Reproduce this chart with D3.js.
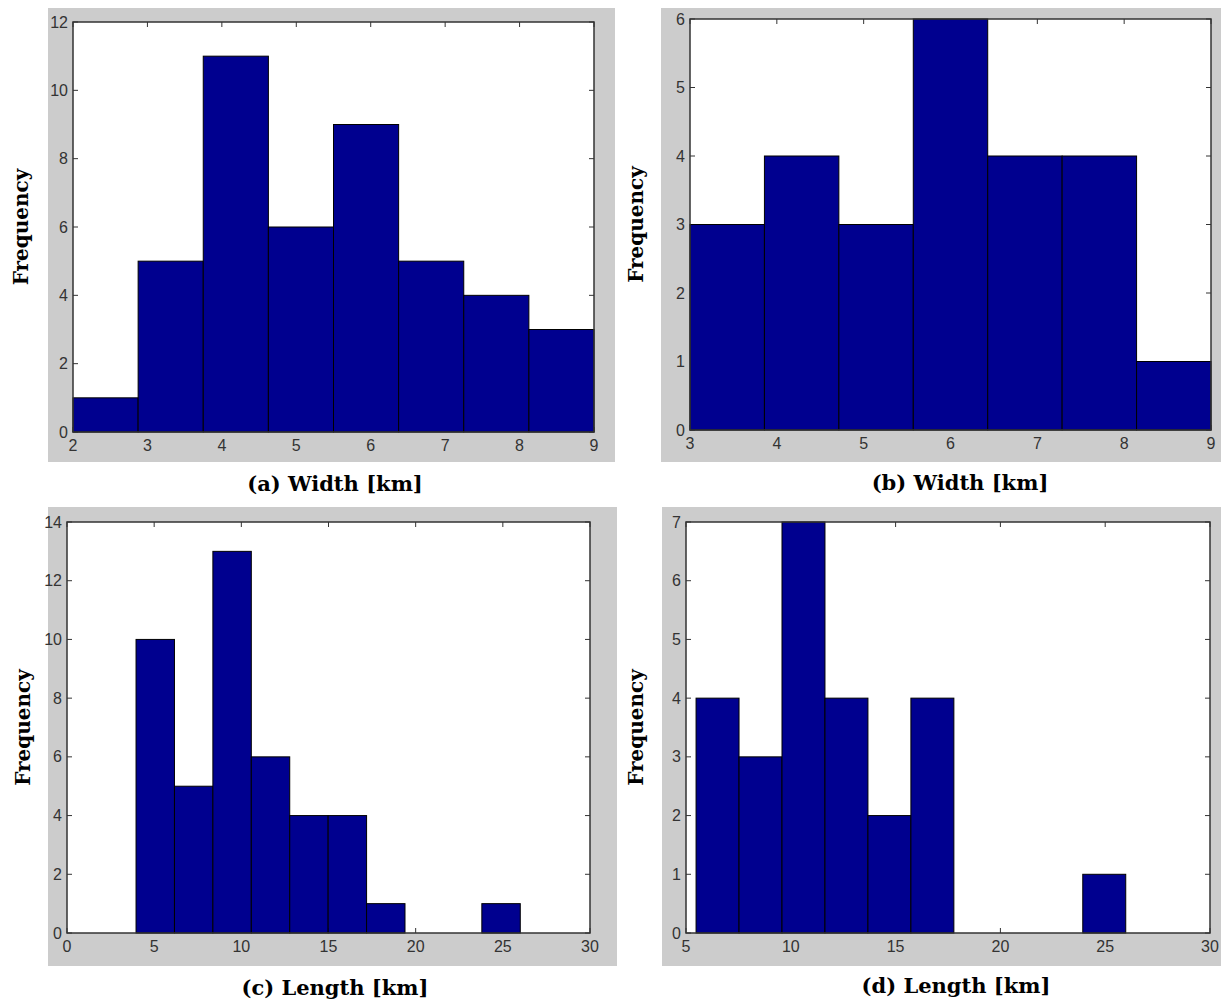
<!DOCTYPE html>
<html>
<head>
<meta charset="utf-8">
<script src="https://cdn.jsdelivr.net/npm/d3@7"></script>
<style>
  body { margin: 0; background: #fff; }
  .tick-label { font-family: "Liberation Sans", Arial, sans-serif; font-size: 16px; fill: #333; }
  .caption { font-family: "DejaVu Serif", serif; font-weight: bold; font-size: 20px; fill: #000; }
  .caption.bottom { font-size: 21px; }
</style>
</head>
<body>
<svg id="chart" width="1221" height="1003"></svg>
<script>
// histogram counts
var widthA = [1, 5, 11, 6, 9, 5, 4, 3];
var widthB = [3, 4, 3, 6, 4, 4, 1];
var lengthC = [10, 5, 13, 6, 4, 4, 1, 0, 0, 1];
var lengthD = [4, 3, 7, 4, 2, 4, 0, 0, 0, 1];

// data range covered by the bins (min, max)
var widthARange = [2, 9];
var widthBRange = [3, 9];
var lengthCRange = [3.96, 26];
var lengthDRange = [5.48, 25.98];

// axis ticks
var xTicksA = [2, 3, 4, 5, 6, 7, 8, 9];
var yTicksA = [0, 2, 4, 6, 8, 10, 12];
var xTicksB = [3, 4, 5, 6, 7, 8, 9];
var yTicksB = [0, 1, 2, 3, 4, 5, 6];
var xTicksC = [0, 5, 10, 15, 20, 25, 30];
var yTicksC = [0, 2, 4, 6, 8, 10, 12, 14];
var xTicksD = [5, 10, 15, 20, 25, 30];
var yTicksD = [0, 1, 2, 3, 4, 5, 6, 7];

var captions = ["(a) Width [km]", "(b) Width [km]", "(c) Length [km]", "(d) Length [km]"];

var svg = d3.select("#chart");

var panels = [
  { counts: widthA, range: widthARange, xTicks: xTicksA, yTicks: yTicksA, caption: captions[0],
    bg: [48, 8, 615, 462], plot: [73, 22, 594, 432], capX: 335, capY: 491, ylabX: 22 },
  { counts: widthB, range: widthBRange, xTicks: xTicksB, yTicks: yTicksB, caption: captions[1],
    bg: [661, 8, 1221, 462], plot: [690, 19, 1211, 430], capX: 960, capY: 490, ylabX: 637 },
  { counts: lengthC, range: lengthCRange, xTicks: xTicksC, yTicks: yTicksC, caption: captions[2],
    bg: [48, 507, 617, 966], plot: [67, 522, 590, 933], capX: 335, capY: 995, ylabX: 24 },
  { counts: lengthD, range: lengthDRange, xTicks: xTicksD, yTicks: yTicksD, caption: captions[3],
    bg: [662, 507, 1221, 966], plot: [686, 522, 1210, 933], capX: 956, capY: 993, ylabX: 637 }
];

panels.forEach(function(p) {
  var x0 = p.plot[0], y0 = p.plot[1], x1 = p.plot[2], y1 = p.plot[3];

  var x = d3.scaleLinear()
    .domain(d3.extent(p.xTicks))
    .range([x0, x1]);
  var y = d3.scaleLinear()
    .domain(d3.extent(p.yTicks))
    .range([y1, y0]);

  // bins of equal width between range min and max
  var n = p.counts.length;
  var step = (p.range[1] - p.range[0]) / n;
  var bins = p.counts.map(function(c, i) {
    return { x0: p.range[0] + i * step, x1: p.range[0] + (i + 1) * step, count: c };
  });

  var g = svg.append("g");

  g.append("rect")
    .attr("x", p.bg[0]).attr("y", p.bg[1])
    .attr("width", p.bg[2] - p.bg[0]).attr("height", p.bg[3] - p.bg[1])
    .attr("fill", "#cccccc");

  g.append("rect")
    .attr("x", x0).attr("y", y0)
    .attr("width", x1 - x0).attr("height", y1 - y0)
    .attr("fill", "#fff");

  // inward ticks on all four sides
  var tl = 5;
  var ticks = g.append("g").attr("stroke", "#333").attr("stroke-width", 1);
  p.xTicks.forEach(function(t) {
    ticks.append("line").attr("x1", x(t)).attr("x2", x(t)).attr("y1", y1).attr("y2", y1 - tl);
    ticks.append("line").attr("x1", x(t)).attr("x2", x(t)).attr("y1", y0).attr("y2", y0 + tl);
  });
  p.yTicks.forEach(function(t) {
    ticks.append("line").attr("y1", y(t)).attr("y2", y(t)).attr("x1", x0).attr("x2", x0 + tl);
    ticks.append("line").attr("y1", y(t)).attr("y2", y(t)).attr("x1", x1).attr("x2", x1 - tl);
  });

  g.selectAll("rect.bar")
    .data(bins.filter(function(d) { return d.count > 0; }))
    .enter()
    .append("rect")
    .attr("class", "bar")
    .attr("x", function(d) { return x(d.x0); })
    .attr("y", function(d) { return y(d.count); })
    .attr("width", function(d) { return x(d.x1) - x(d.x0); })
    .attr("height", function(d) { return y(0) - y(d.count); })
    .attr("fill", "#00008f")
    .attr("stroke", "#000")
    .attr("stroke-width", 1);

  g.append("rect")
    .attr("x", x0).attr("y", y0)
    .attr("width", x1 - x0).attr("height", y1 - y0)
    .attr("fill", "none")
    .attr("stroke", "#333")
    .attr("stroke-width", 1.5);

  g.selectAll("text.xt")
    .data(p.xTicks)
    .enter()
    .append("text")
    .attr("class", "tick-label")
    .attr("x", function(d) { return x(d); })
    .attr("y", y1 + 19)
    .attr("text-anchor", "middle")
    .text(function(d) { return d; });

  g.selectAll("text.yt")
    .data(p.yTicks)
    .enter()
    .append("text")
    .attr("class", "tick-label")
    .attr("x", x0 - 5)
    .attr("y", function(d) { return y(d); })
    .attr("dy", "0.35em")
    .attr("text-anchor", "end")
    .text(function(d) { return d; });

  g.append("text")
    .attr("class", "caption")
    .attr("transform", "translate(" + p.ylabX + "," + ((y0 + y1) / 2) + ") rotate(-90)")
    .attr("text-anchor", "middle")
    .attr("dy", "0.3em")
    .text("Frequency");

  g.append("text")
    .attr("class", "caption bottom")
    .attr("x", p.capX)
    .attr("y", p.capY)
    .attr("text-anchor", "middle")
    .text(p.caption);
});
</script>
</body>
</html>
